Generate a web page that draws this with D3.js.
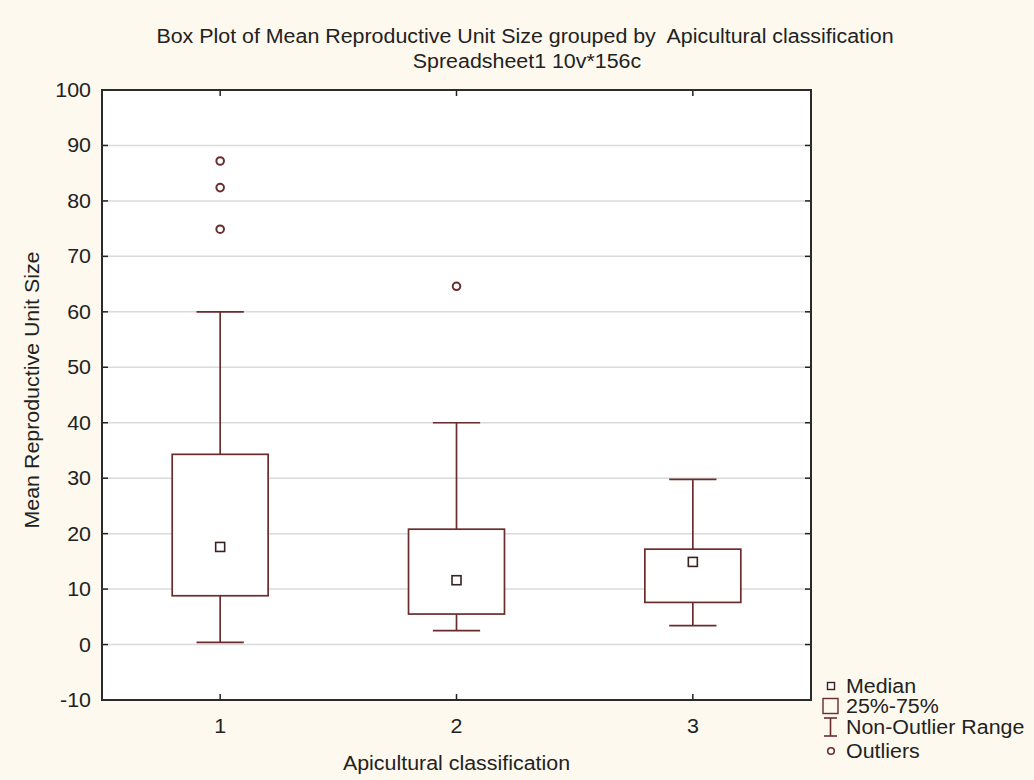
<!DOCTYPE html>
<html>
<head>
<meta charset="utf-8">
<script src="https://cdn.jsdelivr.net/npm/d3@7/dist/d3.min.js"></script>
<style>
  html, body { margin: 0; padding: 0; background: #fdf9ee; }
  svg { display: block; }
  text { font-family: "Liberation Sans", Arial, sans-serif; fill: #222; }
</style>
</head>
<body>
<svg id="chart" width="1034" height="780"></svg>
<script>
// Box plot data per apicultural class
const categories = ["1", "2", "3"];
const q1Values = [8.8, 5.5, 7.6];
const q3Values = [34.3, 20.8, 17.2];
const medianValues = [17.6, 11.6, 14.9];
const whiskerLow = [0.4, 2.5, 3.4];
const whiskerHigh = [60, 40, 29.8];
const outlierValues = [[87.2, 82.4, 74.9], [64.6], []];
const yTickValues = [-10, 0, 10, 20, 30, 40, 50, 60, 70, 80, 90, 100];
const titleLines = ["Box Plot of Mean Reproductive Unit Size grouped by\u00a0 Apicultural classification", "Spreadsheet1 10v*156c"];
const legendLabels = ["Median", "25%-75%", "Non-Outlier Range", "Outliers"];

const svg = d3.select("#chart");
const W = 1034, H = 780;
const plot = { left: 102, right: 811, top: 90, bottom: 700 };
const markColor = "#6a2c2c";
const FONT = 20, SX = 1.07;

const x = d3.scaleLinear().domain([0.5, categories.length + 0.5]).range([plot.left, plot.right]);
const y = d3.scaleLinear().domain([-10, 100]).range([plot.bottom, plot.top]);

// Text with the wide glyph proportions of the chart
function label(g, str, px, py, anchor, rot = 0, size = FONT) {
  return g.append("text")
    .attr("transform", `translate(${px},${py}) rotate(${rot}) scale(${SX},1)`)
    .attr("text-anchor", anchor)
    .attr("font-size", size)
    .text(str);
}

svg.append("rect").attr("width", W).attr("height", H).attr("fill", "#fdf9ee");

// Plot area
svg.append("rect")
  .attr("x", plot.left).attr("y", plot.top)
  .attr("width", plot.right - plot.left).attr("height", plot.bottom - plot.top)
  .attr("fill", "#ffffff");

// Horizontal gridlines
svg.append("g").selectAll("line")
  .data(yTickValues.filter(v => v > -10 && v < 100))
  .join("line")
  .attr("x1", plot.left).attr("x2", plot.right)
  .attr("y1", d => y(d)).attr("y2", d => y(d))
  .attr("stroke", "#dadada").attr("stroke-width", 1.5);

// Inward ticks on all four sides
const tickG = svg.append("g").attr("stroke", "#222").attr("stroke-width", 1.5);
yTickValues.forEach(v => {
  tickG.append("line").attr("x1", plot.left).attr("x2", plot.left + 6).attr("y1", y(v)).attr("y2", y(v));
  tickG.append("line").attr("x1", plot.right - 6).attr("x2", plot.right).attr("y1", y(v)).attr("y2", y(v));
});
categories.forEach((c, i) => {
  tickG.append("line").attr("x1", x(i + 1)).attr("x2", x(i + 1)).attr("y1", plot.bottom).attr("y2", plot.bottom - 6);
  tickG.append("line").attr("x1", x(i + 1)).attr("x2", x(i + 1)).attr("y1", plot.top).attr("y2", plot.top + 6);
});

// Frame
svg.append("rect")
  .attr("x", plot.left).attr("y", plot.top)
  .attr("width", plot.right - plot.left).attr("height", plot.bottom - plot.top)
  .attr("fill", "none").attr("stroke", "#2b2b2b").attr("stroke-width", 2);

// Axis labels
const axisText = svg.append("g");
yTickValues.forEach(v => label(axisText, String(v), plot.left - 11, y(v) + 7, "end"));
categories.forEach((c, i) => label(axisText, c, x(i + 1), 733, "middle"));
label(axisText, "Apicultural classification", x(2), 770, "middle");
label(axisText, "Mean Reproductive Unit Size", 39, (plot.top + plot.bottom) / 2 - 5, "middle", -90);

// Titles
label(svg, titleLines[0], 525, 43, "middle");
label(svg, titleLines[1], 527, 68, "middle");

// Boxes, whiskers, medians, outliers
const boxHalf = 0.203, capHalf = 0.1;
const marks = svg.append("g").attr("stroke", markColor).attr("stroke-width", 1.7).attr("fill", "none");
categories.forEach((c, i) => {
  const cx = x(i + 1);
  const g = marks.append("g");
  // whiskers
  g.append("line").attr("x1", cx).attr("x2", cx).attr("y1", y(q3Values[i])).attr("y2", y(whiskerHigh[i]));
  g.append("line").attr("x1", cx).attr("x2", cx).attr("y1", y(q1Values[i])).attr("y2", y(whiskerLow[i]));
  g.append("line").attr("x1", x(i + 1 - capHalf)).attr("x2", x(i + 1 + capHalf)).attr("y1", y(whiskerHigh[i])).attr("y2", y(whiskerHigh[i]));
  g.append("line").attr("x1", x(i + 1 - capHalf)).attr("x2", x(i + 1 + capHalf)).attr("y1", y(whiskerLow[i])).attr("y2", y(whiskerLow[i]));
  // box
  g.append("rect")
    .attr("x", x(i + 1 - boxHalf)).attr("y", y(q3Values[i]))
    .attr("width", x(i + 1 + boxHalf) - x(i + 1 - boxHalf))
    .attr("height", y(q1Values[i]) - y(q3Values[i]))
    .attr("fill", "#ffffff");
  // median marker
  g.append("rect")
    .attr("x", cx - 4.5).attr("y", y(medianValues[i]) - 4.5)
    .attr("width", 9).attr("height", 9)
    .attr("fill", "#ffffff").attr("stroke", "#3b2222").attr("stroke-width", 1.6);
  // outliers
  g.selectAll("circle").data(outlierValues[i]).join("circle")
    .attr("cx", cx).attr("cy", d => y(d)).attr("r", 3.8)
    .attr("fill", "#ffffff").attr("stroke-width", 2);
});

// Legend
const lg = svg.append("g");
const lx = 831, rows = [686, 706, 727, 751];
lg.append("rect").attr("x", lx - 3.5).attr("y", rows[0] - 3.5).attr("width", 7).attr("height", 7)
  .attr("fill", "#fff").attr("stroke", "#3b2222").attr("stroke-width", 1.4);
lg.append("rect").attr("x", lx - 8).attr("y", rows[1] - 7.5).attr("width", 15).attr("height", 15)
  .attr("fill", "none").attr("stroke", markColor).attr("stroke-width", 1.4);
const wg = lg.append("g").attr("stroke", markColor).attr("stroke-width", 1.6);
wg.append("line").attr("x1", lx - 7).attr("x2", lx + 6).attr("y1", rows[2] - 9).attr("y2", rows[2] - 9);
wg.append("line").attr("x1", lx - 7).attr("x2", lx + 6).attr("y1", rows[2] + 9).attr("y2", rows[2] + 9);
wg.append("line").attr("x1", lx - 0.5).attr("x2", lx - 0.5).attr("y1", rows[2] - 9).attr("y2", rows[2] + 9);
lg.append("circle").attr("cx", lx).attr("cy", rows[3]).attr("r", 3.3)
  .attr("fill", "#fff").attr("stroke", markColor).attr("stroke-width", 1.6);
legendLabels.forEach((t, k) => label(lg, t, 846, rows[k] + 7, "start"));
</script>
</body>
</html>
